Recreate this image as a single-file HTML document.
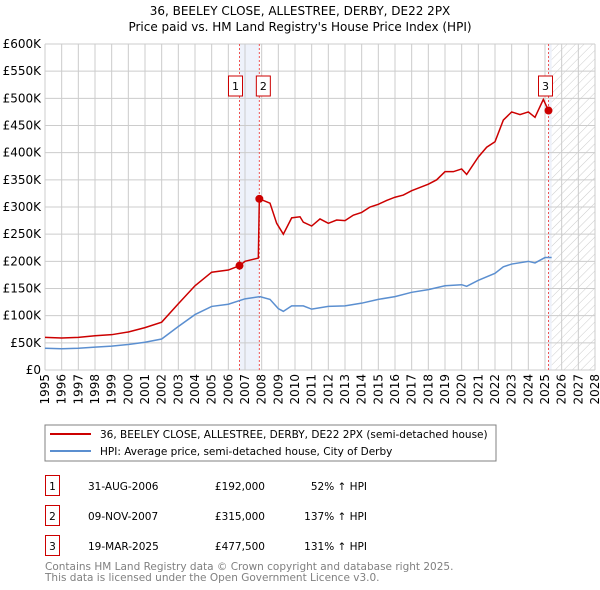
<!DOCTYPE html>
<html><head><meta charset="utf-8"><style>
body{margin:0;background:#fff;}
svg{display:block;font-family:"DejaVu Sans","Liberation Sans",sans-serif;}
</style></head><body>
<svg id="c" width="600" height="590" viewBox="0 0 600 590">
<defs><pattern id="hatch" width="6" height="6" patternUnits="userSpaceOnUse" patternTransform="rotate(45)"><line x1="0" y1="0" x2="0" y2="6" stroke="#ccc" stroke-width="1"/></pattern></defs>
<text x="300" y="15" text-anchor="middle" font-size="12" fill="#000">36, BEELEY CLOSE, ALLESTREE, DERBY, DE22 2PX</text>
<text x="300" y="31" text-anchor="middle" font-size="12" fill="#000">Price paid vs. HM Land Registry's House Price Index (HPI)</text>
<g id="grid"></g><g id="marks"></g><g id="axes"></g>
<rect x="45" y="425" width="451" height="36" fill="#fff" stroke="#808080"/>
<line x1="50" y1="434" x2="91" y2="434" stroke="#cc0000" stroke-width="2"/>
<text x="100" y="438" font-size="10.5">36, BEELEY CLOSE, ALLESTREE, DERBY, DE22 2PX (semi-detached house)</text>
<line x1="50" y1="451" x2="91" y2="451" stroke="#5b8fd0" stroke-width="2"/>
<text x="100" y="455" font-size="10.5">HPI: Average price, semi-detached house, City of Derby</text>
<g font-size="10.5">
<rect x="45.5" y="475.5" width="14" height="20" fill="none" stroke="#cc0000"/><text x="52.5" y="490" text-anchor="middle">1</text>
<text x="88" y="490">31-AUG-2006</text><text x="265" y="490" text-anchor="end">£192,000</text><text x="367" y="490" text-anchor="end">52% ↑ HPI</text>
<rect x="45.5" y="505.5" width="14" height="20" fill="none" stroke="#cc0000"/><text x="52.5" y="520" text-anchor="middle">2</text>
<text x="88" y="520">09-NOV-2007</text><text x="265" y="520" text-anchor="end">£315,000</text><text x="367" y="520" text-anchor="end">137% ↑ HPI</text>
<rect x="45.5" y="535.5" width="14" height="20" fill="none" stroke="#cc0000"/><text x="52.5" y="550" text-anchor="middle">3</text>
<text x="88" y="550">19-MAR-2025</text><text x="265" y="550" text-anchor="end">£477,500</text><text x="367" y="550" text-anchor="end">131% ↑ HPI</text>
</g>
<text x="45" y="570" font-size="10.5" fill="#808080">Contains HM Land Registry data © Crown copyright and database right 2025.</text>
<text x="45" y="581" font-size="10.5" fill="#808080">This data is licensed under the Open Government Licence v3.0.</text>
</svg>
<script>
const yTicks=[0,50,100,150,200,250,300,350,400,450,500,550,600];
const years=[1995,1996,1997,1998,1999,2000,2001,2002,2003,2004,2005,2006,2007,2008,2009,2010,2011,2012,2013,2014,2015,2016,2017,2018,2019,2020,2021,2022,2023,2024,2025,2026,2027,2028];
const hpiT=[1995,1996,1997,1998,1999,2000,2001,2002,2003,2004,2005,2006,2007,2007.9,2008.5,2009,2009.3,2009.8,2010.5,2011,2012,2013,2014,2015,2016,2017,2018,2019,2020,2020.3,2021,2022,2022.5,2023,2024,2024.4,2025,2025.4];
const hpiV=[40,39,40,42,44,47,51,57,80,102,117,121,131,135,130,113,108,118,118,112,117,118,123,130,135,143,148,155,157,154,165,178,190,195,200,197,207,207];
const propT=[1995,1996,1997,1998,1999,2000,2001,2002,2003,2004,2005,2006,2006.67,2007,2007.8,2007.86,2008.5,2008.9,2009.3,2009.8,2010.3,2010.5,2011,2011.5,2012,2012.5,2013,2013.5,2014,2014.5,2015,2015.5,2016,2016.5,2017,2017.5,2018,2018.5,2019,2019.5,2020,2020.3,2021,2021.5,2022,2022.5,2023,2023.5,2024,2024.4,2024.9,2025.21];
const propV=[60,59,60,63,65,70,78,88,122,155,180,184,192,200,206,315,307,270,250,280,282,272,265,278,270,276,275,285,290,300,305,312,318,322,330,336,342,350,365,365,370,360,392,410,420,460,475,470,475,465,498,477.5];
const saleT=[2006.67,2007.86,2025.21];
const saleV=[192,315,477.5];
const X0=45,X1=595,Y0=370,Y1=44;
const x=t=>X0+(t-1995)/(2028-1995)*(X1-X0);
const y=v=>Y0-v/600*(Y0-Y1);
const NS='http://www.w3.org/2000/svg';
function mk(p,tag,a){const e=document.createElementNS(NS,tag);for(const k in a)e.setAttribute(k,a[k]);p.appendChild(e);return e;}
const grid=document.getElementById('grid'),marks=document.getElementById('marks'),axes=document.getElementById('axes');
let b=mk(grid,'rect',{x:x(saleT[0]),y:Y1,width:x(saleT[1])-x(saleT[0]),height:Y0-Y1,fill:'#eef2fb'});


let b2=mk(grid,'rect',{x:x(saleT[2]),y:Y1,width:x(2025.4)-x(saleT[2]),height:Y0-Y1,fill:'#eef2fb'});


let h=mk(grid,'rect',{x:x(2025.4),y:Y1,width:X1-x(2025.4),height:Y0-Y1,fill:'url(#hatch)'});


yTicks.forEach(v=>{const l=mk(grid,'line',{x1:X0,x2:X1,y1:y(v),y2:y(v),stroke:'#cccccc'});


const t=mk(axes,'text',{x:X0-4,y:y(v)+4,'text-anchor':'end','font-size':'12'});t.textContent=v?'£'+v+'K':'£0';

});
years.forEach(yr=>{const l=mk(grid,'line',{x1:x(yr),x2:x(yr),y1:Y1,y2:Y0,stroke:'#cccccc'});


const t=mk(axes,'text',{x:0,y:0,'text-anchor':'end','font-size':'12',transform:`translate(${x(yr)+4},${Y0+4}) rotate(-90)`});t.textContent=yr;

});
saleT.forEach((t,i)=>{const l=mk(marks,'line',{x1:x(t),x2:x(t),y1:Y1,y2:Y0,stroke:'#ee5555','stroke-dasharray':'2,2'});


const bx=x(t)-(i==0?4:i==1?-4:0)-7-(i==2?3:0);
const r=mk(marks,'rect',{x:bx,y:76,width:14,height:20,fill:'#fff',stroke:'#cc0000'});


const tx=mk(marks,'text',{x:bx+7,y:90,'text-anchor':'middle','font-size':'11'});tx.textContent=i+1;

});
const hl=mk(marks,'polyline',{points:hpiT.map((t,i)=>x(t)+','+y(hpiV[i])).join(' '),fill:'none',stroke:'#5b8fd0','stroke-width':'1.5'});


const pl=mk(marks,'polyline',{points:propT.map((t,i)=>x(t)+','+y(propV[i])).join(' '),fill:'none',stroke:'#cc0000','stroke-width':'1.5'});


saleT.forEach((t,i)=>{const c=mk(marks,'circle',{cx:x(t),cy:y(saleV[i]),r:4,fill:'#cc0000'});

});
</script>
</body></html>
